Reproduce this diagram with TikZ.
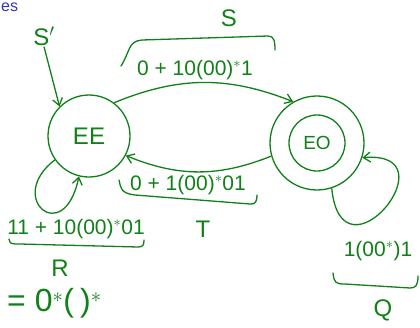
\documentclass[tikz,border=0pt]{standalone}
\usepackage{fontspec}
\setmainfont{Liberation Sans}
\usetikzlibrary{arrows.meta}
\definecolor{ink}{RGB}{16,128,24}
\definecolor{pen}{RGB}{52,52,196}
\tikzset{
  state/.style={draw=ink,circle,line width=1.3pt,inner sep=0pt},
  lbl/.style={text=ink,font=\fontsize{21}{24}\selectfont,inner sep=1pt},
  big/.style={text=ink,font=\fontsize{24}{28}\selectfont,inner sep=1pt},
  edge/.style={draw=ink,line width=1.3pt,-{Straight Barb[length=7pt,width=10pt]}},
  brace/.style={draw=ink,line width=1.3pt,line cap=round,line join=round}
}
\begin{document}
\begin{tikzpicture}[x=1pt,y=-1pt]
\useasboundingbox (0,0) rectangle (420,327);
% states
\node[state,minimum size=82pt] (ee) at (89,136) {};
\node[big] (eelbl) at (ee) {EE};
\node[state,minimum size=94pt] (eo) at (317,143) {};
\node[state,minimum size=56pt,text=ink,font=\fontsize{19}{22}\selectfont] (eoin) at (eo) {EO};
% start arrow
\node[big] (sprime) at (44,36) {S$'$};
\draw[edge] (sprime.south) -- (ee.north west);
% transitions
\draw[edge] (ee.53) to[bend left=22] (eo.120);
\draw[edge] (eo.196) to[bend left=22] (ee.-28);
\draw[edge] (ee.215) .. controls +(-50,38) and +(-15,72) .. (ee.256);
\draw[edge] (eo.-72) .. controls +(10,100) and +(92,-8) .. (eo.-18);
% labels
\node[lbl] (lS) at (195,70) {0 + 10(00)$^*$1};
\node[lbl] (lT) at (188,185) {0 + 1(00)$^*$01};
\node[lbl] (lR) at (76,229) {11 + 10(00)$^*$01};
\node[lbl] (lQ) at (378,251) {1(00$^*$)1};
\node[big] (nS) at (229,18) {S};
\node[big] (nT) at (203,229) {T};
\node[big] (nR) at (60,268) {R};
\node[big] (nQ) at (383,310) {Q};
% braces
\draw[brace] (121,66) .. controls (130,52) and (128,41) .. (142,40) -- (268,36) .. controls (274,36) and (275,41) .. (275,50);
\draw[brace] (119,180) .. controls (121,188) and (120,193) .. (135,195) -- (250,204) .. controls (256,205) and (257,200) .. (257,195);
\draw[brace] (9,239) .. controls (10,244) and (11,244) .. (20,244) -- (138,247) .. controls (143,247) and (144,245) .. (144,240);
\draw[brace] (333,273) .. controls (334,283) and (336,284) .. (345,284) -- (410,288) .. controls (416,288) and (418,285) .. (418,276);
% text at the edges
\node[text=pen,font=\fontsize{16}{18}\selectfont,anchor=south west,inner sep=0pt] (es) at (1,12) {es};
\node[big,anchor=north west,font=\fontsize{32}{36}\selectfont] (tail) at (6,287) {= 0$^*$(\kern6pt)$^*$};
\end{tikzpicture}
\end{document}
